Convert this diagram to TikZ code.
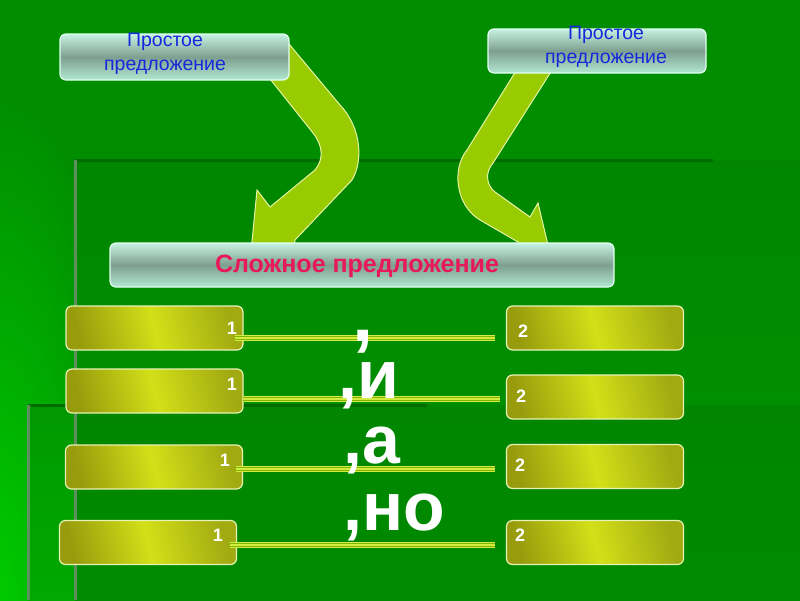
\documentclass[tikz,border=0pt]{standalone}
\usepackage{fontspec}
\setmainfont{Liberation Sans}
\usetikzlibrary{calc}
\pgfdeclarelayer{bg}
\pgfsetlayers{bg,main}
\definecolor{bgbase}{HTML}{008E00}
\definecolor{bgbright}{HTML}{00CC00}
\definecolor{frtop}{HTML}{008600}
\definecolor{frbot}{HTML}{009600}
\definecolor{darkln}{HTML}{006C00}
\definecolor{grayln}{HTML}{5E905E}
\definecolor{mintA}{HTML}{C6F2E2}
\definecolor{mintB}{HTML}{7E9F90}
\definecolor{mintC}{HTML}{B2E8D2}
\definecolor{mintedge}{HTML}{E2FFF0}
\definecolor{oliveA}{HTML}{989C0C}
\definecolor{oliveB}{HTML}{D2E018}
\definecolor{oliveC}{HTML}{A2AA12}
\definecolor{yedge}{HTML}{E8F2B4}
\definecolor{arrowfill}{HTML}{99CC00}
\definecolor{arrowedge}{HTML}{E6F5A8}
\definecolor{ptextc}{HTML}{1428DC}
\definecolor{stextc}{HTML}{E8185C}
\definecolor{stripeY}{HTML}{D4EC40}
\definecolor{stripeG}{HTML}{7FB400}
\begin{document}
\begin{tikzpicture}[x=1pt,y=-1pt,
  tbox/.style={draw=mintedge, line width=1.2pt, rounded corners=6pt,
    top color=mintA, bottom color=mintC, middle color=mintB, inner sep=0pt},
  ybox/.style={draw=yedge, line width=1.2pt, rounded corners=6pt,
    left color=oliveA, right color=oliveC, middle color=oliveB, shading angle=104,
    minimum width=177pt, minimum height=44pt, inner sep=0pt},
  ptext/.style={anchor=base, inner sep=0pt, text=ptextc, font=\fontsize{19.5}{20}\selectfont},
  stext/.style={anchor=base, inner sep=0pt, text=stextc, font=\fontsize{25}{26}\selectfont\bfseries},
  num/.style={inner sep=0pt, text=white, font=\fontsize{18}{18}\selectfont\bfseries},
  conj/.style={anchor=base west, inner sep=0pt, text=white, text height=38pt,
    font=\fontsize{68}{68}\selectfont\bfseries},
  stripe/.style={line width=6.8pt, draw=stripeY,
    postaction={draw=stripeG, line width=4.1pt},
    postaction={draw=stripeY, line width=1.4pt}},
  arrowst/.style={fill=arrowfill, draw=arrowedge, line width=1pt},
  darkline/.style={draw=darkln, line width=3pt},
  grayline/.style={draw=grayln, line width=3pt}]
\useasboundingbox (0,0) rectangle (800,600);

% boxes
\node[tbox, minimum width=229pt, minimum height=46pt] (p1) at (174.5,57) {};
\node[tbox, minimum width=218pt, minimum height=44pt] (p2) at (597,51) {};
\node[tbox, minimum width=504pt, minimum height=44pt] (s) at (362,265) {};

\node[ptext] (p1a) at (165,46) {Простое};
\node[ptext] (p1b) at (165,70) {предложение};
\node[ptext] (p2a) at (606,39) {Простое};
\node[ptext] (p2b) at (606,63) {предложение};
\node[stext] (st) at (357,272) {Сложное предложение};

\node[ybox] (l1) at (154.5,328) {};
\node[ybox] (l2) at (154.5,391) {};
\node[ybox] (l3) at (154,467) {};
\node[ybox] (l4) at (148,542.5) {};
\node[ybox] (r1) at (595,328) {};
\node[ybox] (r2) at (595,397) {};
\node[ybox] (r3) at (595,466.5) {};
\node[ybox] (r4) at (595,542.5) {};

% connector lines
\coordinate (a1) at (235,338); \coordinate (b1) at (495,338);
\coordinate (a2) at (243,399); \coordinate (b2) at (500,399);
\coordinate (a3) at (236,469); \coordinate (b3) at (495,469);
\coordinate (a4) at (230,545); \coordinate (b4) at (495,545);
\draw[stripe] (a1) -- (b1);
\draw[stripe] (a2) -- (b2);
\draw[stripe] (a3) -- (b3);
\draw[stripe] (a4) -- (b4);

\node[num] (n1) at (232,328) {1};
\node[num] (n2) at (232,384) {1};
\node[num] (n3) at (225,460) {1};
\node[num] (n4) at (218,535) {1};
\node[num] (m1) at (523,331) {2};
\node[num] (m2) at (521,396) {2};
\node[num] (m3) at (520,465) {2};
\node[num] (m4) at (520,535) {2};

\node[conj, text height=12pt, text depth=1pt, font=\fontsize{76}{76}\selectfont\bfseries] (k0) at (352,341) {,};
\node[conj] (k1) at (338,398) {,и};
\node[conj] (k2) at (343,463) {,а};
\node[conj] (k3) at (343,530) {,но};

\begin{pgfonlayer}{bg}
  \begin{scope}
    \clip (0,0) rectangle (800,600);
    \fill[bgbase] (0,0) rectangle (800,600);
    \shade[inner color=bgbright, outer color=bgbase] (0,620) ellipse (140 and 520);
    \shade[top color=frtop, bottom color=frbot] (75,160) rectangle (800,600);
    \shade[top color=frtop, bottom color=frtop!70!frbot] (75,405) rectangle (800,600);
    \shade[top color=green!60!black, bottom color=green!66!black] (28,405) rectangle (75,600);
    \draw[darkline] (75,160) -- (713,160);
    \draw[grayline] (75,160) -- (75,600);
    \draw[darkline] (28,405) -- (427,405);
    \draw[grayline] (28,405) -- (28,600);
  \end{scope}
  % left bent arrow
  \filldraw[arrowst] (247,50) -- (313,133) .. controls (323,146) and (324,159) .. (315,170)
    -- (270,207) -- (257,190) -- (250,262) -- (292,262) -- (295,240) -- (352,180)
    .. controls (363,162) and (362,128) .. (340,105) -- (284,38) -- cycle;
  % right bent arrow
  \filldraw[arrowst] (532,45) -- (467,150) .. controls (452,168) and (455,205) .. (480,220)
    -- (518,242) -- (522,262) -- (552,262) -- (538,203) -- (530,217) -- (495,192)
    .. controls (486,185) and (485,172) .. (493,163) -- (568,45) -- cycle;
\end{pgfonlayer}
\end{tikzpicture}
\end{document}
